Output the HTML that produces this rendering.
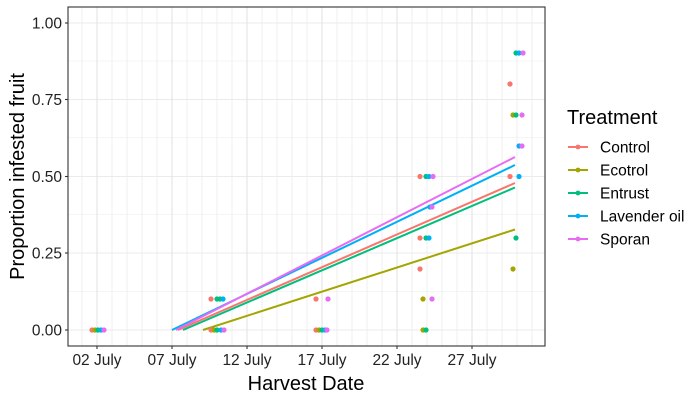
<!DOCTYPE html>
<html><head><meta charset="utf-8"><style>body{margin:0;background:#fff}svg{display:block;font-family:"Liberation Sans",Arial,sans-serif}</style></head><body>
<svg width="700" height="400" viewBox="0 0 700 400" xmlns="http://www.w3.org/2000/svg">
<rect width="700" height="400" fill="#fff"/>
<g stroke="#ebebeb" stroke-width="0.6">
<line x1="68" x2="545" y1="291.5" y2="291.5"/><line x1="68" x2="545" y1="214.5" y2="214.5"/><line x1="68" x2="545" y1="137.5" y2="137.5"/><line x1="68" x2="545" y1="61" y2="61"/>
</g>
<g stroke="#ebebeb" stroke-width="1.1">
<line x1="68" x2="545" y1="330" y2="330"/><line x1="68" x2="545" y1="253" y2="253"/><line x1="68" x2="545" y1="176.5" y2="176.5"/><line x1="68" x2="545" y1="99.5" y2="99.5"/><line x1="68" x2="545" y1="23" y2="23"/>
</g>
<g stroke="#ebebeb" stroke-width="0.8">
<line x1="82" x2="82" y1="7" y2="346"/><line x1="112" x2="112" y1="7" y2="346"/><line x1="127" x2="127" y1="7" y2="346"/><line x1="142" x2="142" y1="7" y2="346"/><line x1="157" x2="157" y1="7" y2="346"/>
<line x1="187" x2="187" y1="7" y2="346"/><line x1="202" x2="202" y1="7" y2="346"/><line x1="217" x2="217" y1="7" y2="346"/><line x1="232" x2="232" y1="7" y2="346"/>
<line x1="262" x2="262" y1="7" y2="346"/><line x1="277" x2="277" y1="7" y2="346"/><line x1="292" x2="292" y1="7" y2="346"/><line x1="307" x2="307" y1="7" y2="346"/>
<line x1="337" x2="337" y1="7" y2="346"/><line x1="352" x2="352" y1="7" y2="346"/><line x1="367" x2="367" y1="7" y2="346"/><line x1="382" x2="382" y1="7" y2="346"/>
<line x1="412" x2="412" y1="7" y2="346"/><line x1="427" x2="427" y1="7" y2="346"/><line x1="442" x2="442" y1="7" y2="346"/><line x1="457" x2="457" y1="7" y2="346"/>
<line x1="487" x2="487" y1="7" y2="346"/><line x1="502" x2="502" y1="7" y2="346"/><line x1="517" x2="517" y1="7" y2="346"/><line x1="532" x2="532" y1="7" y2="346"/>
</g>
<g stroke="#e3e3e3" stroke-width="1.1">
<line x1="97" x2="97" y1="7" y2="346"/><line x1="172" x2="172" y1="7" y2="346"/><line x1="247" x2="247" y1="7" y2="346"/><line x1="322" x2="322" y1="7" y2="346"/><line x1="397" x2="397" y1="7" y2="346"/><line x1="472" x2="472" y1="7" y2="346"/>
</g>
<g stroke-width="2" fill="none">
<line x1="203" y1="330" x2="515" y2="229.5" stroke="#A3A500"/>
<line x1="183" y1="330" x2="515" y2="187.5" stroke="#00BF7D"/>
<line x1="178" y1="330" x2="515" y2="183" stroke="#F8766D"/>
<line x1="172" y1="330" x2="515" y2="165" stroke="#00B0F6"/>
<line x1="176" y1="330" x2="515" y2="157" stroke="#E76BF3"/>
</g>
<g>
<circle cx="92" cy="330" r="2.6" fill="#F8766D"/><circle cx="95" cy="330" r="2.6" fill="#A3A500"/><circle cx="98" cy="330" r="2.6" fill="#00BF7D"/><circle cx="101" cy="330" r="2.6" fill="#00B0F6"/><circle cx="104" cy="330" r="2.6" fill="#E76BF3"/>
<circle cx="211" cy="330" r="2.6" fill="#F8766D"/><circle cx="214" cy="330" r="2.6" fill="#A3A500"/><circle cx="217" cy="330" r="2.6" fill="#00BF7D"/><circle cx="221" cy="330" r="2.6" fill="#00B0F6"/><circle cx="224" cy="330" r="2.6" fill="#E76BF3"/>
<circle cx="211" cy="299" r="2.6" fill="#F8766D"/><circle cx="217" cy="299" r="2.6" fill="#00BF7D"/><circle cx="220" cy="299" r="2.6" fill="#00BF7D"/><circle cx="223" cy="299" r="2.6" fill="#00B0F6"/>
<circle cx="316" cy="330" r="2.6" fill="#F8766D"/><circle cx="319" cy="330" r="2.6" fill="#A3A500"/><circle cx="322" cy="330" r="2.6" fill="#00BF7D"/><circle cx="325" cy="330" r="2.6" fill="#00B0F6"/><circle cx="327" cy="330" r="2.6" fill="#E76BF3"/>
<circle cx="316" cy="299" r="2.6" fill="#F8766D"/><circle cx="328" cy="299" r="2.6" fill="#E76BF3"/>
<circle cx="420" cy="176.5" r="2.6" fill="#F8766D"/><circle cx="426" cy="176.5" r="2.6" fill="#00BF7D"/><circle cx="429" cy="176.5" r="2.6" fill="#00B0F6"/><circle cx="433" cy="176.5" r="2.6" fill="#E76BF3"/>
<circle cx="430" cy="207" r="2.6" fill="#00B0F6"/><circle cx="432" cy="207" r="2.6" fill="#E76BF3"/>
<circle cx="420" cy="238" r="2.6" fill="#F8766D"/><circle cx="426" cy="238" r="2.6" fill="#00BF7D"/><circle cx="429" cy="238" r="2.6" fill="#00B0F6"/>
<circle cx="420" cy="269" r="2.6" fill="#F8766D"/>
<circle cx="423" cy="299" r="2.6" fill="#A3A500"/><circle cx="432" cy="299" r="2.6" fill="#E76BF3"/>
<circle cx="423" cy="330" r="2.6" fill="#A3A500"/><circle cx="426" cy="330" r="2.6" fill="#00BF7D"/>
<circle cx="510" cy="84" r="2.6" fill="#F8766D"/>
<circle cx="516" cy="53" r="2.6" fill="#00BF7D"/><circle cx="519" cy="53" r="2.6" fill="#00B0F6"/><circle cx="523" cy="53" r="2.6" fill="#E76BF3"/>
<circle cx="513" cy="115" r="2.6" fill="#A3A500"/><circle cx="516" cy="115" r="2.6" fill="#00BF7D"/><circle cx="522" cy="115" r="2.6" fill="#E76BF3"/>
<circle cx="519" cy="146" r="2.6" fill="#00B0F6"/><circle cx="522" cy="146" r="2.6" fill="#E76BF3"/>
<circle cx="510" cy="176.5" r="2.6" fill="#F8766D"/><circle cx="519" cy="176.5" r="2.6" fill="#00B0F6"/>
<circle cx="516" cy="238" r="2.6" fill="#00BF7D"/>
<circle cx="513" cy="269" r="2.6" fill="#A3A500"/>
</g>
<rect x="68" y="7" width="477" height="339" fill="none" stroke="#333" stroke-width="1.1"/>
<g stroke="#333" stroke-width="1.1">
<line x1="65" x2="68" y1="330" y2="330"/><line x1="65" x2="68" y1="253" y2="253"/><line x1="65" x2="68" y1="176.5" y2="176.5"/><line x1="65" x2="68" y1="99.5" y2="99.5"/><line x1="65" x2="68" y1="23" y2="23"/>
<line x1="97" x2="97" y1="346" y2="349"/><line x1="172" x2="172" y1="346" y2="349"/><line x1="247" x2="247" y1="346" y2="349"/><line x1="322" x2="322" y1="346" y2="349"/><line x1="397" x2="397" y1="346" y2="349"/><line x1="472" x2="472" y1="346" y2="349"/>
</g>
<g font-size="15.5" fill="#222" text-anchor="end">
<text x="62" y="335.5">0.00</text><text x="62" y="258.5">0.25</text><text x="62" y="182">0.50</text><text x="62" y="105">0.75</text><text x="62" y="28.5">1.00</text>
</g>
<g font-size="15.5" fill="#222" text-anchor="middle">
<text x="97" y="365">02 July</text><text x="172" y="365">07 July</text><text x="247" y="365">12 July</text><text x="322" y="365">17 July</text><text x="397" y="365">22 July</text><text x="472" y="365">27 July</text>
</g>
<text x="306" y="390" font-size="20" text-anchor="middle" fill="#000">Harvest Date</text>
<text transform="translate(24,176.5) rotate(-90)" font-size="20" text-anchor="middle" fill="#000">Proportion infested fruit</text>
<text x="567" y="124" font-size="20" fill="#000">Treatment</text>
<g stroke-width="2">
<line x1="568" x2="588" y1="147" y2="147" stroke="#F8766D"/><line x1="568" x2="588" y1="170" y2="170" stroke="#A3A500"/><line x1="568" x2="588" y1="193" y2="193" stroke="#00BF7D"/><line x1="568" x2="588" y1="216" y2="216" stroke="#00B0F6"/><line x1="568" x2="588" y1="239" y2="239" stroke="#E76BF3"/>
</g>
<circle cx="578" cy="147" r="2.4" fill="#F8766D"/><circle cx="578" cy="170" r="2.4" fill="#A3A500"/><circle cx="578" cy="193" r="2.4" fill="#00BF7D"/><circle cx="578" cy="216" r="2.4" fill="#00B0F6"/><circle cx="578" cy="239" r="2.4" fill="#E76BF3"/>
<g font-size="15.5" fill="#000">
<text x="600" y="152.5">Control</text><text x="600" y="175.5">Ecotrol</text><text x="600" y="198.5">Entrust</text><text x="600" y="221.5">Lavender oil</text><text x="600" y="244.5">Sporan</text>
</g>
</svg>
</body></html>
